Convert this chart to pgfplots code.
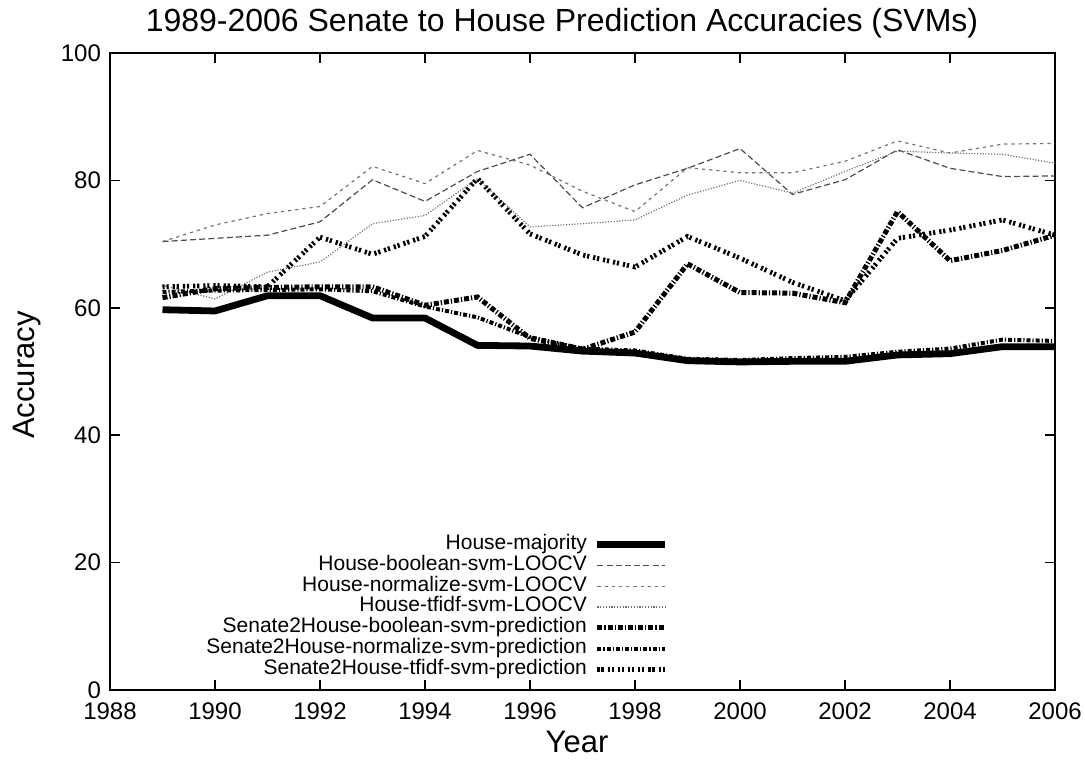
\documentclass[border=0pt]{standalone}
\usepackage{fontspec}
\setmainfont{Liberation Sans}
\usepackage{pgfplots}
\usepackage{pgfplotstable}
\pgfplotsset{compat=1.18}

\pgfplotstableread{
year maj boolL normL tfidfL boolP normP tfidfP
1989 59.7 70.4 70.4 63.5 61.6 62.5 63.3
1990 59.5 70.9 73.0 61.4 63.0 62.7 63.5
1991 61.9 71.4 74.8 65.6 63.2 62.8 63.3
1992 61.9 73.5 75.9 67.2 63.3 62.9 71.1
1993 58.4 80.1 82.2 73.2 63.3 62.6 68.4
1994 58.4 76.7 79.5 74.5 60.4 60.2 71.2
1995 54.1 81.4 84.7 80.3 61.7 58.5 80.3
1996 54.0 84.1 82.4 72.7 55.2 55.4 71.6
1997 53.2 75.7 78.3 73.2 53.5 53.6 68.3
1998 52.9 79.3 75.1 73.8 56.2 53.3 66.4
1999 51.7 81.9 82.0 77.7 66.9 52.0 71.2
2000 51.5 85.0 81.2 80.0 62.4 51.8 67.8
2001 51.6 77.8 81.2 78.0 62.3 52.1 64.0
2002 51.6 80.1 83.0 81.4 60.8 52.3 61.1
2003 52.6 84.8 86.2 84.6 75.1 53.1 70.9
2004 52.8 81.9 84.3 84.3 67.4 53.6 72.2
2005 53.9 80.6 85.7 84.1 69.0 55.0 73.8
2006 53.9 80.7 85.8 82.7 71.4 54.8 71.4
}\data

\begin{document}
\begin{tikzpicture}
\useasboundingbox (-55pt,-35.5pt) rectangle (487.5pt,345pt);
\begin{axis}[
  at={(0,0)}, anchor=south west,
  width=472.5pt, height=318.5pt, scale only axis,
  xmin=1988, xmax=2006, ymin=0, ymax=100,
  xtick={1988,1990,...,2006}, ytick={0,20,...,100},
  tick align=inside, major tick length=5pt,
  /pgf/number format/assume math mode=true,
  /pgf/number format/1000 sep={},
  ticklabel style={font=\fontsize{12}{14}\selectfont},
  xticklabel style={yshift=-3pt},
  yticklabel style={xshift=-1pt},
  axis line style={line width=0.8pt},
  every tick/.style={line width=0.8pt, black},
  legend style={at={(0.598,0.009)}, anchor=south east, draw=none, fill=none,
    font=\fontsize{10.5}{10.5}\selectfont, row sep=0pt, column sep=3.5pt,
    nodes={inner sep=0pt, text height=7.6pt, text depth=2.8pt}},
  legend cell align=right, legend plot pos=right,
  legend image code/.code={\draw[#1] (0pt,0pt) -- (34pt,0pt);},
]
\addplot[black, line width=3.4pt, line join=round] table[x=year,y=maj]{\data};
\addlegendentry{House-majority}
\addplot[black!70, line width=0.6pt, dash pattern=on 3pt off 1.6pt] table[x=year,y=boolL]{\data};
\addlegendentry{House-boolean-svm-LOOCV}
\addplot[black!55, line width=0.6pt, dash pattern=on 1.6pt off 2pt] table[x=year,y=normL]{\data};
\addlegendentry{House-normalize-svm-LOOCV}
\addplot[black!55, line width=0.6pt, dash pattern=on 0.6pt off 0.8pt] table[x=year,y=tfidfL]{\data};
\addlegendentry{House-tfidf-svm-LOOCV}
\addplot[black, line width=2.5pt, dash pattern=on 2.5pt off 1pt on 0.6pt off 1pt] table[x=year,y=boolP]{\data};
\addlegendentry{Senate2House-boolean-svm-prediction}
\addplot[black, line width=2pt, dash pattern=on 2pt off 1pt on 0.6pt off 1pt] table[x=year,y=normP]{\data};
\addlegendentry{Senate2House-normalize-svm-prediction}
\addplot[black, line width=2.4pt, dash pattern=on 1.1pt off 0.9pt on 1.1pt off 2pt] table[x=year,y=tfidfP]{\data};
\addlegendentry{Senate2House-tfidf-svm-prediction}
\end{axis}
\node[font=\fontsize{16}{18}\selectfont, anchor=base] at (226pt,329pt) {1989-2006 Senate to House Prediction Accuracies (SVMs)};
\node[font=\fontsize{15.5}{18}\selectfont, rotate=90] at (-41.5pt,157.5pt) {Accuracy};
\node[font=\fontsize{15.5}{18}\selectfont] at (233.5pt,-26pt) {Year};
\end{tikzpicture}
\end{document}
